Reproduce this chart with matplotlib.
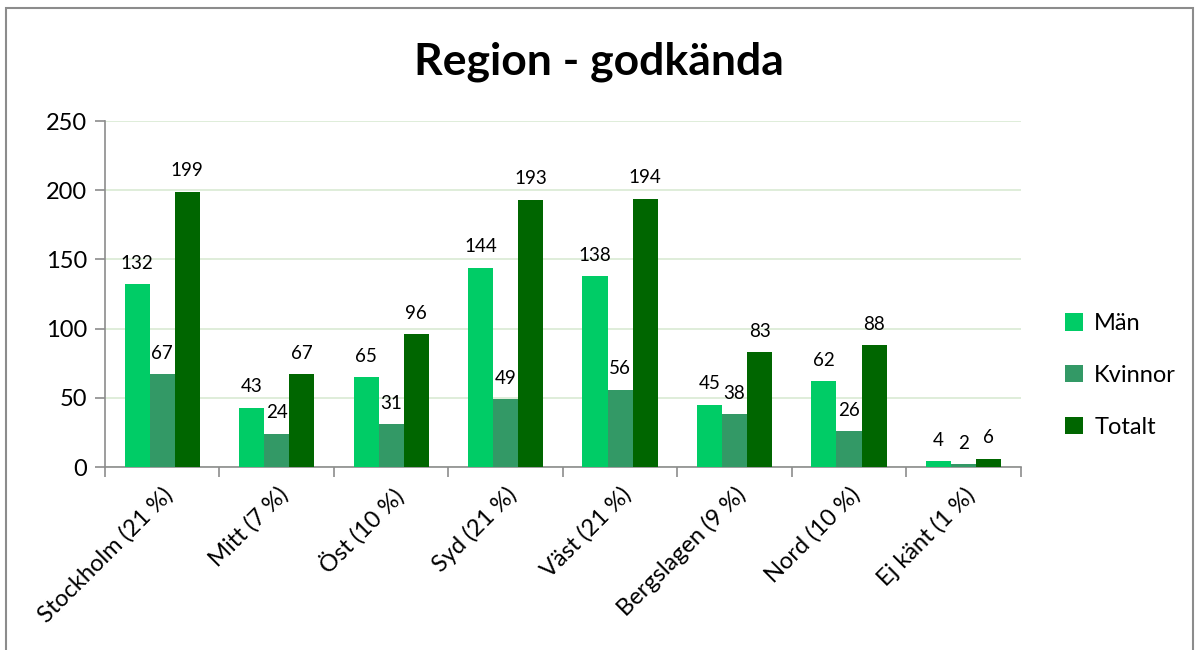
import numpy as np
import matplotlib.pyplot as plt
from matplotlib.patches import Rectangle

plt.rcParams['font.family'] = ['Lato', 'DejaVu Sans']

regioner = ['Stockholm (21 %)', 'Mitt (7 %)', 'Öst (10 %)', 'Syd (21 %)',
            'Väst (21 %)', 'Bergslagen (9 %)', 'Nord (10 %)', 'Ej känt (1 %)']
man = [132, 43, 65, 144, 138, 45, 62, 4]
kvinnor = [67, 24, 31, 49, 56, 38, 26, 2]
totalt = [199, 67, 96, 193, 194, 83, 88, 6]

serier = [('Män', man, '#00CC66'), ('Kvinnor', kvinnor, '#339966'), ('Totalt', totalt, '#006600')]

fig = plt.figure(figsize=(11.98, 6.5), dpi=100)
ax = fig.add_axes([0.0876, 0.2815, 0.7644, 0.5323])

# ram runt diagrammet
fig.patches.append(Rectangle((0.005, -0.05), 0.991, 1.037, transform=fig.transFigure,
                             fill=False, edgecolor='#8c8c8c', linewidth=1.5))

x = np.arange(len(regioner))
w = 0.219
for i, (namn, vals, col) in enumerate(serier):
    pos = x + (i - 1) * w
    bars = ax.bar(pos, vals, width=w, color=col, label=namn, zorder=3)
    for b, v in zip(bars, vals):
        ax.annotate(str(v), (b.get_x() + b.get_width() / 2, v), xytext=(0, 9),
                    textcoords='offset points', ha='center', va='bottom', fontsize=13.5)

ax.set_xlim(-0.5, len(regioner) - 0.5)
ax.set_ylim(0, 250)
ax.set_yticks(range(0, 251, 50))
ax.grid(axis='y', color='#d9ead3', linewidth=1.2, zorder=0)
ax.set_axisbelow(True)

ax.set_xticks(x)
ax.set_xticklabels(regioner, rotation=45, ha='right', rotation_mode='anchor', fontsize=17)
ax.tick_params(axis='x', length=0, pad=12)
ax.set_xticks(np.arange(-0.5, len(regioner)), minor=True)
ax.tick_params(axis='x', which='minor', length=7, color='#8c8c8c', width=1.2)
ax.tick_params(axis='y', labelsize=17, length=7, color='#8c8c8c', width=1.2, pad=6)

for s in ['top', 'right']:
    ax.spines[s].set_visible(False)
for s in ['left', 'bottom']:
    ax.spines[s].set_color('#8c8c8c')
    ax.spines[s].set_linewidth(1.2)

fig.text(0.5, 0.905, 'Region - godkända', ha='center', va='center', fontsize=32, fontweight='bold')

ax.legend(loc='center left', bbox_to_anchor=(1.025, 0.265), frameon=False, fontsize=17,
          handlelength=0.75, handleheight=0.75, labelspacing=1.3, handletextpad=0.5)

fig.savefig('out.png', dpi=100)
